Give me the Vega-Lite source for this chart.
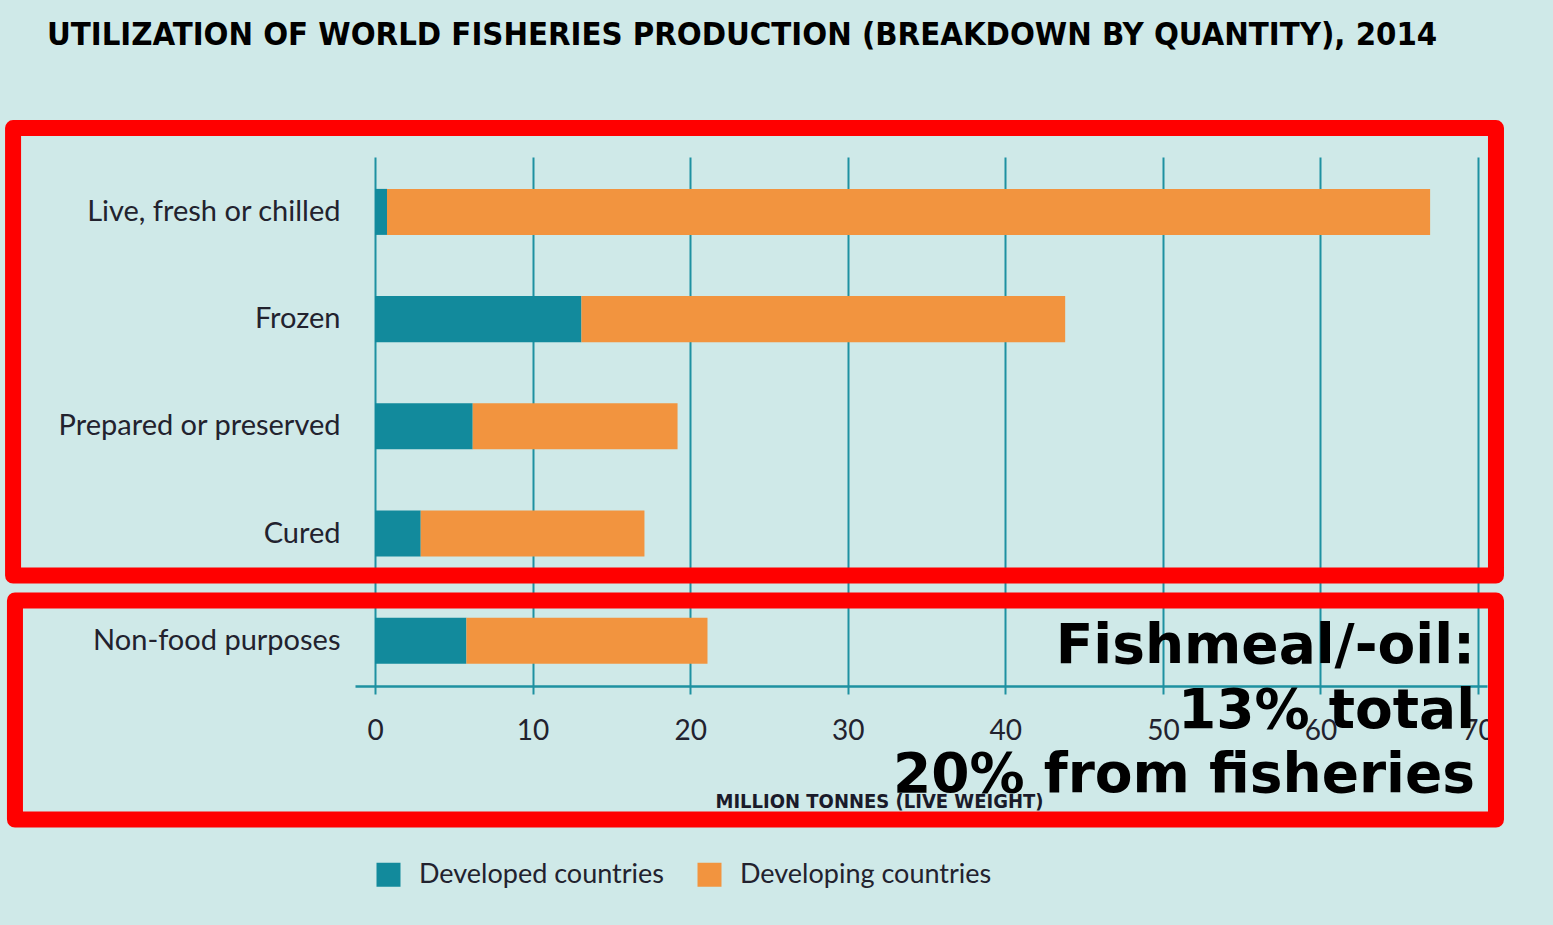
{
  "$schema": "https://vega.github.io/schema/vega-lite/v6.json",
  "width": 1132,
  "height": 529,
  "autosize": {"type": "none"},
  "padding": {"left": 355, "top": 157, "right": 66, "bottom": 239},
  "background": "#cfe9e8",
  "config": {"view": {"stroke": null}},
  "title": {
    "text": "UTILIZATION OF WORLD FISHERIES PRODUCTION (BREAKDOWN BY QUANTITY), 2014",
    "font": "DejaVu Sans Condensed, Liberation Sans",
    "fontWeight": "bold",
    "fontSize": 32.6,
    "color": "#000000",
    "anchor": "start",
    "frame": "group",
    "orient": "top",
    "baseline": "alphabetic",
    "offset": 42,
    "dx": -308
  },
  "datasets": {
    "bars": [
      {"category": "Live, fresh or chilled", "group": "Developed countries", "ord": 1, "value": 0.76},
      {"category": "Live, fresh or chilled", "group": "Developing countries", "ord": 2, "value": 66.2},
      {"category": "Frozen", "group": "Developed countries", "ord": 1, "value": 13.1},
      {"category": "Frozen", "group": "Developing countries", "ord": 2, "value": 30.7},
      {"category": "Prepared or preserved", "group": "Developed countries", "ord": 1, "value": 6.2},
      {"category": "Prepared or preserved", "group": "Developing countries", "ord": 2, "value": 13.0},
      {"category": "Cured", "group": "Developed countries", "ord": 1, "value": 2.9},
      {"category": "Cured", "group": "Developing countries", "ord": 2, "value": 14.2},
      {"category": "Non-food purposes", "group": "Developed countries", "ord": 1, "value": 5.8},
      {"category": "Non-food purposes", "group": "Developing countries", "ord": 2, "value": 15.3}
    ],
    "boxes": [
      {"box": "Food", "x0": -22.97, "x1": 71.14, "r0": -0.783, "r1": 3.39},
      {"box": "Non-food", "x0": -22.85, "x1": 71.14, "r0": 3.623, "r1": 5.665}
    ],
    "notes": [
      {"line": "Fishmeal/-oil:", "xv": 69.81, "row": 4.205},
      {"line": "13% total", "xv": 69.81, "row": 4.812},
      {"line": "20% from fisheries", "xv": 69.81, "row": 5.408}
    ]
  },
  "layer": [
    {
      "data": {"name": "bars"},
      "mark": {"type": "bar"},
      "encoding": {
        "y": {
          "field": "category",
          "type": "nominal",
          "sort": ["Live, fresh or chilled", "Frozen", "Prepared or preserved", "Cured", "Non-food purposes"],
          "scale": {"paddingInner": 0.571, "paddingOuter": 0.252, "align": 0.59},
          "axis": {
            "title": null,
            "domain": false,
            "ticks": false,
            "grid": false,
            "labelPadding": 15,
            "labelLimit": 0,
            "labelFont": "Lato",
            "labelFontSize": 29,
            "labelColor": "#22222e"
          }
        },
        "x": {
          "field": "value",
          "type": "quantitative",
          "stack": "zero",
          "scale": {"domain": [-1.27, 70.57], "nice": false, "zero": false},
          "axis": {
            "values": [0, 10, 20, 30, 40, 50, 60, 70],
            "grid": true,
            "gridColor": "#1e91a1",
            "gridWidth": 2,
            "domainColor": "#1e91a1",
            "domainWidth": 2.5,
            "tickColor": "#1e91a1",
            "tickWidth": 2,
            "tickSize": 8,
            "labelFont": "Lato",
            "labelFontSize": 28,
            "labelColor": "#22222e",
            "labelPadding": 23,
            "title": "MILLION TONNES (LIVE WEIGHT)",
            "titleFont": "DejaVu Sans Condensed, Liberation Sans",
            "titleFontSize": 20,
            "titleFontWeight": "bold",
            "titleColor": "#1a1a2a",
            "titleX": 524,
            "titleY": 121,
            "titleAlign": "center",
            "titleBaseline": "alphabetic"
          }
        },
        "color": {
          "field": "group",
          "type": "nominal",
          "scale": {"domain": ["Developed countries", "Developing countries"], "range": ["#128a9c", "#f2943f"]},
          "legend": {
            "title": null,
            "orient": "none",
            "direction": "horizontal",
            "legendX": 20,
            "legendY": 704,
            "padding": 0,
            "symbolType": "square",
            "symbolSize": 576,
            "symbolStrokeWidth": 0,
            "symbolOpacity": 1,
            "labelLimit": 0,
            "labelFont": "Lato",
            "labelFontSize": 27,
            "labelColor": "#22222e",
            "labelOffset": 17,
            "columnPadding": 31
          }
        },
        "order": {"field": "ord", "type": "quantitative"}
      }
    },
    {
      "layer": [
        {
          "data": {"name": "boxes"},
          "mark": {"type": "rect", "fillOpacity": 0, "stroke": "#ff0000", "strokeWidth": 16, "strokeJoin": "round", "clip": false},
          "encoding": {
            "x": {"field": "x0", "type": "quantitative", "scale": {"domain": [-1.27, 70.57], "nice": false, "zero": false}},
            "x2": {"field": "x1"},
            "y": {"field": "r0", "type": "quantitative", "scale": {"domain": [-0.5129, 4.42], "nice": false, "zero": false, "reverse": true}, "axis": null},
            "y2": {"field": "r1"}
          }
        },
        {
          "data": {"name": "notes"},
          "mark": {"type": "text", "align": "right", "baseline": "alphabetic", "font": "DejaVu Sans", "fontWeight": "bold", "fontSize": 55, "color": "#000000", "clip": false},
          "encoding": {
            "x": {"field": "xv", "type": "quantitative"},
            "y": {"field": "row", "type": "quantitative"},
            "text": {"field": "line", "type": "nominal"}
          }
        }
      ]
    }
  ],
  "resolve": {"scale": {"y": "independent"}}
}
